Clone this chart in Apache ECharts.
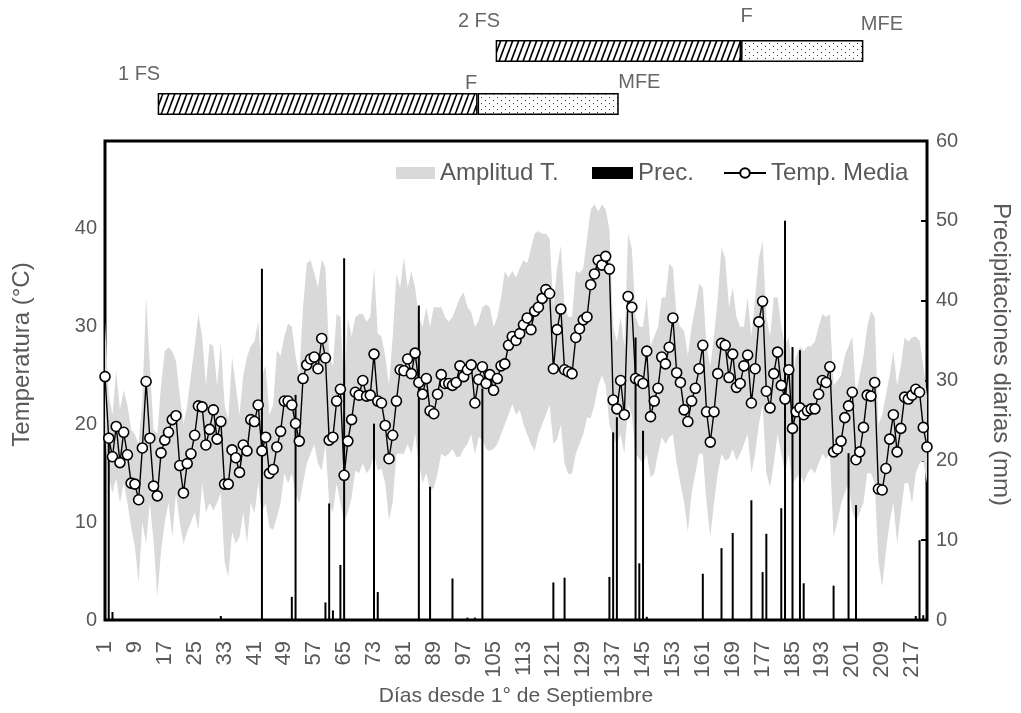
<!DOCTYPE html>
<html>
<head>
<meta charset="utf-8">
<script src="https://cdn.jsdelivr.net/npm/echarts@6/dist/echarts.min.js"></script>
<style>
html,body{margin:0;padding:0;background:#fff;}
#chart{width:1021px;height:713px;}
</style>
</head>
<body>
<div id="chart"></div>
<script>
// ---------------- DATA ----------------
const dayCount = 221;
const days = Array.from({length: dayCount}, (_, i) => String(i + 1));

const tempMean = [
 24.9,18.6,16.7,19.8,16.1,19.2,16.9,14.0,13.9,12.3,
 17.6,24.4,18.6,13.7,12.7,17.1,18.4,19.2,20.5,20.9,
 15.8,13.0,16.0,17.0,18.9,21.9,21.8,17.9,19.5,21.5,
 18.5,20.3,13.9,13.9,17.4,16.6,15.1,17.9,17.3,20.5,
 20.3,22.0,17.3,18.7,15.0,15.4,17.7,19.3,22.4,22.4,
 22.0,20.1,18.3,24.7,26.1,26.7,26.9,25.7,28.8,26.8,
 18.4,18.7,22.4,23.6,14.8,18.3,20.5,23.3,23.0,24.5,
 22.9,23.0,27.2,22.4,22.2,19.9,16.5,18.9,22.4,25.6,
 25.5,26.7,25.2,27.3,24.3,23.1,24.7,21.4,21.1,23.1,
 25.1,24.2,24.2,24.0,24.3,26.0,24.9,25.6,26.1,22.2,
 24.6,25.9,24.2,25.1,23.5,24.7,26.0,26.2,28.1,29.0,
 28.6,29.3,30.2,30.9,29.7,31.6,32.0,32.9,33.8,33.4,
 25.7,29.7,31.8,25.6,25.4,25.2,28.9,29.8,30.7,31.0,
 34.3,35.4,36.8,36.3,37.2,35.9,22.5,21.6,24.5,21.0,
 33.1,32.0,24.7,24.5,24.2,27.5,20.8,22.4,23.7,26.9,
 26.2,27.9,30.9,25.3,24.3,21.5,20.3,22.4,23.7,25.7,
 28.1,21.3,18.2,21.3,25.2,28.3,28.1,24.8,27.2,23.8,
 24.2,26.0,27.1,22.2,25.7,30.5,32.6,23.4,21.7,25.2,
 27.4,24.0,22.6,25.6,19.6,21.3,21.7,21.0,21.4,21.6,
 21.6,23.1,24.5,24.3,25.9,17.2,17.5,18.3,20.7,21.9,
 23.3,16.4,17.2,19.7,23.0,22.9,24.3,13.4,13.3,15.5,
 18.5,21.0,17.2,19.6,22.8,22.6,23.0,23.6,23.3,19.7,17.7
];

const tempMax = [
 30.5,23,21,25.5,21.5,23.5,22,19.5,19,18,
 22.5,33.0,26,19.5,19,24,27.5,27.9,27.5,26.5,
 23,20,22,25,28,31.3,29,24,28.3,28,
 24,28.3,22,20.5,26.9,24,21,25,26.9,28,
 28.5,30.6,25,26,21,22,27.6,27,29,30.3,
 30,27,25,32,36.5,36.8,35.5,34,36.9,36,
 27,26,31.3,31,24,30.9,29,31,31.3,31.3,
 30.5,31,36.1,29.3,29,27,24,29,35.4,34,
 37.1,34,35.7,34,31,30,32,30,32,32,
 32,31,30.5,31,32,33,33.5,32,31.5,30,
 30.6,32,32.3,32,30,31,33,35.7,35,35.7,
 35,36,36.8,36.5,38,39.5,39.8,39.5,39.5,39,
 32,36,38.3,32,31,31,35.7,35.5,36,39,
 42,42.5,41.8,42.5,42,40,30,28.5,31,28,
 39.5,38,31,30,30,33,28,29,30,33,
 33,36.5,36,31,30,29.6,27,30,32,34.4,
 34,28,26,29,33,38.1,37,32,34,31,
 30,30,33,29,33,37,38.8,31,29,33,
 33,30,28,29,25,27,28,27.5,28,28,
 28.5,30,31.3,31,31.3,24,24.5,25,27,28,
 29,23,25,27,30,31.6,31,20,21,23,
 25,27.5,24,26,28.9,28.5,28.9,29,28.6,26,23
];

const tempMin = [
 19,14.5,13,14.5,12,14,12,9.5,7.5,3.8,
 10,7.8,12,8,2.4,7,10,12,8.5,13,
 10,7.8,9,10,11,9.2,14,11,12,11.2,
 12,13,6,4.4,9,7.8,8.5,11,7.8,12,
 10.9,14,11,12,9.5,9.2,10.5,12,15,14,
 15,13,11.9,14,16,17,18,16,15.3,18,
 12,11,14,12,10,11,12.5,15.3,15,16,
 15,15.5,17,15.3,15.5,14,10.2,12,17,17,
 17,18,17,19,16,14,15,13.3,13.5,15,
 17,16.7,17,17.5,16.7,16.7,17.5,18,19,17,
 18.7,18.5,17.5,17.3,17.5,18,19,20,21,22.1,
 21,21.5,20,19,18,17.3,19,20,21,22,
 18,18.5,20,16,14.9,15,17,18,19,20.7,
 20.7,22,24,25,24,20,18.7,18,19,17,
 22,21,17,16.5,16,17,14.6,15,17,18.7,
 18,18.7,19,16,14,12,9,13,15,17,
 17,12,8.5,12,15,17,16.3,16.5,17.5,16.3,
 17,18,19,15,17,20,22,15,13.6,16,
 19,17,15,17,14,14.5,15,14,15,15.5,
 15,16,17,16.5,17,8.5,10,11.9,13,14,
 11.2,10,11,12,15,15,14,6,3.4,7,
 10,12,7.8,11,14,14,11.9,15,16,16.3,14
];

// rainy days: day number and rainfall (mm); all other days 0
const rainDays = [1,2,3,32,43,51,52,60,61,62,64,65,73,74,85,88,94,98,100,102,
                  121,124,136,137,138,143,144,145,146,161,166,169,174,177,178,
                  182,183,185,187,188,196,200,202,218,219,220];
const rainMm   = [2.5,23.5,1.0,0.5,44.0,2.9,28.2,2.2,14.6,1.2,6.9,45.3,24.6,3.5,39.4,16.7,5.2,0.3,0.3,29.0,
                  4.7,5.3,5.4,23.5,25.4,35.4,7.1,23.7,0.4,5.8,9.0,10.9,15.0,6.0,10.8,
                  14.0,50.0,34.2,33.8,4.6,4.3,20.9,14.4,0.5,10.0,0.6];

// crop phases (day from 1 Sept): sowing (FS), flowering (F), physiological maturity (MFE)
const sowings = ['1 FS', '2 FS'];
const sowingDay = [15, 104.8];
const floweringDay = [100, 170];
const maturityDay = [137.5, 202.5];

const yLeftTicks = [0, 10, 20, 30, 40];
const yRightTicks = [0, 10, 20, 30, 40, 50, 60];

// ---------------- BUILD ----------------
const precip = days.map(() => 0);
rainDays.forEach((d, i) => { precip[d - 1] = rainMm[i]; });
const amplitude = tempMax.map((v, i) => +(v - tempMin[i]).toFixed(2));

function hatchPattern() {
  const c = document.createElement('canvas');
  c.width = 6; c.height = 16;
  const g = c.getContext('2d');
  g.fillStyle = '#fff'; g.fillRect(0, 0, 6, 16);
  g.strokeStyle = '#000'; g.lineWidth = 1.6;
  [-6, 0, 6].forEach(x0 => { g.beginPath(); g.moveTo(x0, 16); g.lineTo(x0 + 6, 0); g.stroke(); });
  return c;
}
function dotPattern() {
  const c = document.createElement('canvas');
  c.width = 8; c.height = 6;
  const g = c.getContext('2d');
  g.fillStyle = '#fff'; g.fillRect(0, 0, 8, 6);
  g.fillStyle = '#333';
  g.fillRect(1, 1, 1, 1);
  g.fillRect(5, 4, 1, 1);
  return c;
}

const FONT = 'Liberation Sans, Arial, sans-serif';
const GREY = '#595959';

const labelData = [
  {value: [sowingDay[0], sowings[0]], label: {formatter: '1 FS', position: [3, -29], align: 'right'}},
  {value: [floweringDay[0], sowings[0]], label: {formatter: 'F', position: [0, -20], align: 'right'}},
  {value: [maturityDay[0], sowings[0]], label: {formatter: 'MFE', position: [0, -21], align: 'left'}},
  {value: [sowingDay[1], sowings[1]], label: {formatter: '2 FS', position: [5, -29], align: 'right'}},
  {value: [floweringDay[1], sowings[1]], label: {formatter: 'F', position: [0, -34], align: 'left'}},
  {value: [maturityDay[1], sowings[1]], label: {formatter: 'MFE', position: [-2, -26], align: 'left'}}
];

const legendText = {fontSize: 24, color: GREY, fontFamily: FONT};

const chart = echarts.init(document.getElementById('chart'), null, {renderer: 'canvas'});
chart.setOption({
  animation: false,
  backgroundColor: '#fff',
  textStyle: {fontFamily: FONT},
  grid: [
    {left: 105, right: 88, top: 141, bottom: 93, show: true, borderColor: '#000', borderWidth: 3},
    {left: 105, right: 88, top: 24.5, height: 106}
  ],
  legend: [
    {data: [{name: 'Amplitud T.', icon: 'rect'}], left: 391, top: 156, itemWidth: 39, itemHeight: 12,
     textStyle: legendText, selectedMode: false},
    {data: [{name: 'Prec.', icon: 'rect'}], left: 587, top: 156, itemWidth: 41, itemHeight: 12,
     textStyle: legendText, selectedMode: false},
    {data: ['Temp. Media'], left: 718, top: 156, itemWidth: 42, itemHeight: 12,
     textStyle: legendText, selectedMode: false}
  ],
  xAxis: [
    {type: 'category', gridIndex: 0, data: days, boundaryGap: false,
     axisLine: {show: false}, axisTick: {show: false}, splitLine: {show: false},
     axisLabel: {interval: 7, rotate: 90, fontSize: 22, color: GREY, margin: 21, fontFamily: FONT},
     name: 'Días desde 1° de Septiembre', nameLocation: 'middle', nameGap: 64,
     nameTextStyle: {fontSize: 21, color: GREY, fontFamily: FONT}},
    {type: 'value', gridIndex: 1, min: 1, max: dayCount, show: false}
  ],
  yAxis: [
    {type: 'value', gridIndex: 0, min: 0, max: 49, interval: 10,
     axisLine: {show: false}, axisTick: {show: false}, splitLine: {show: false},
     axisLabel: {showMaxLabel: false, fontSize: 20, color: GREY, margin: 8, fontFamily: FONT,
                 formatter: v => (yLeftTicks.indexOf(v) >= 0 ? String(v) : '')},
     name: 'Temperatura (°C)', nameLocation: 'middle', nameGap: 71, nameRotate: 90,
     nameTextStyle: {fontSize: 24, color: GREY, fontFamily: FONT, padding: [0, 0, 0, 52]}},
    {type: 'value', gridIndex: 0, position: 'right', min: 0, max: 60, interval: 10,
     axisLine: {show: false}, splitLine: {show: false},
     axisTick: {show: true, inside: true, length: 6, lineStyle: {color: '#000', width: 2}},
     axisLabel: {fontSize: 20, color: GREY, margin: 9, fontFamily: FONT,
                 formatter: v => (yRightTicks.indexOf(v) >= 0 ? String(v) : '')},
     name: 'Precipitaciones diarias (mm)', nameLocation: 'middle', nameGap: 62, nameRotate: -90,
     nameTextStyle: {fontSize: 24, color: GREY, fontFamily: FONT, padding: [0, 52, 0, 0]}},
    {type: 'category', gridIndex: 1, data: sowings, show: false}
  ],
  series: [
    {name: 'tmin', type: 'line', xAxisIndex: 0, yAxisIndex: 0, stack: 'amp', data: tempMin,
     symbol: 'none', lineStyle: {width: 0, opacity: 0}, silent: true, z: 1},
    {name: 'Amplitud T.', type: 'line', xAxisIndex: 0, yAxisIndex: 0, stack: 'amp', data: amplitude,
     symbol: 'none', color: '#d9d9d9', lineStyle: {width: 0, opacity: 0},
     itemStyle: {color: '#d9d9d9'},
     areaStyle: {color: '#d9d9d9', opacity: 1}, silent: true, z: 1},
    {name: 'Prec.', type: 'bar', xAxisIndex: 0, yAxisIndex: 1, data: precip, barWidth: 2,
     itemStyle: {color: '#000'}, color: '#000', z: 2},
    {name: 'Temp. Media', type: 'line', xAxisIndex: 0, yAxisIndex: 0, data: tempMean,
     symbol: 'circle', symbolSize: 10, showAllSymbol: true, color: '#000',
     lineStyle: {color: '#000', width: 1.4},
     itemStyle: {color: '#fff', borderColor: '#000', borderWidth: 1.6}, z: 3},
    // phase bars
    {name: 'off', type: 'bar', xAxisIndex: 1, yAxisIndex: 2, stack: 'ph', barWidth: 22,
     data: sowingDay, itemStyle: {color: 'rgba(0,0,0,0)'}, silent: true},
    {name: 'veg', type: 'bar', xAxisIndex: 1, yAxisIndex: 2, stack: 'ph', barWidth: 22,
     data: floweringDay.map((f, i) => +(f - sowingDay[i]).toFixed(2)),
     itemStyle: {color: {image: hatchPattern(), repeat: 'repeat'}, borderColor: '#000', borderWidth: 1.5}, silent: true},
    {name: 'rep', type: 'bar', xAxisIndex: 1, yAxisIndex: 2, stack: 'ph', barWidth: 22,
     data: maturityDay.map((m, i) => +(m - floweringDay[i]).toFixed(2)),
     itemStyle: {color: {image: dotPattern(), repeat: 'repeat'}, borderColor: '#000', borderWidth: 1.5}, silent: true},
    {name: 'phaseLabels', type: 'scatter', xAxisIndex: 1, yAxisIndex: 2, symbolSize: 1,
     itemStyle: {color: 'rgba(0,0,0,0)'}, silent: true, z: 5,
     label: {show: true, fontSize: 20, color: '#404040', fontFamily: FONT, verticalAlign: 'middle'},
     data: labelData}
  ]
});
</script>
</body>
</html>
